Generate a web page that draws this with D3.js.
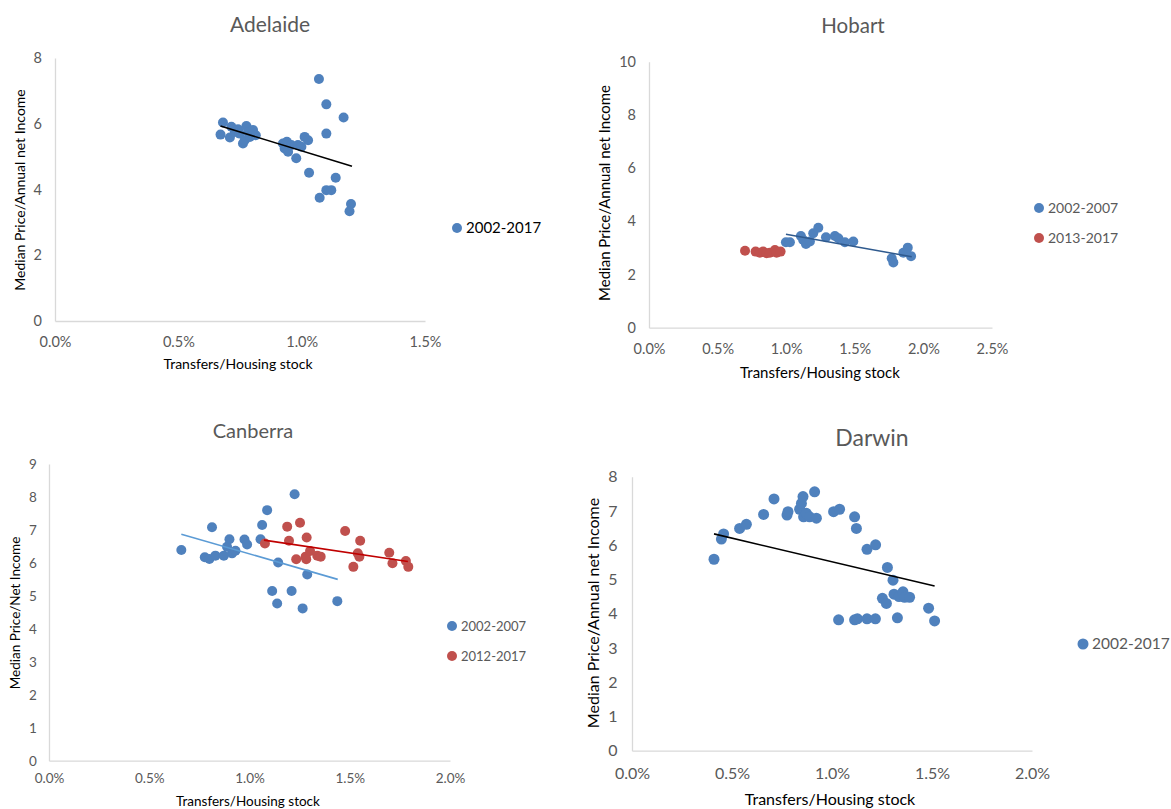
<!DOCTYPE html>
<html>
<head>
<meta charset="utf-8">
<script src="https://cdn.jsdelivr.net/npm/d3@7"></script>
<style>
  body { margin: 0; background: #fff; }
  svg { display: block; font-family: Lato, "Open Sans", sans-serif; }
</style>
</head>
<body>
<svg id="chart" width="1171" height="809"></svg>
<script>
// values: [transfers/stock in %, price/income]
const adelaide = [
  [0.671,5.67],[0.681,6.04],[0.709,5.58],[0.715,5.91],[0.729,5.75],[0.742,5.83],[0.749,5.70],
  [0.762,5.40],[0.769,5.50],[0.776,5.93],[0.783,5.75],[0.790,5.60],[0.803,5.81],[0.814,5.65],
  [0.924,5.40],[0.931,5.25],[0.940,5.45],[0.945,5.15],[0.958,5.35],[0.978,4.95],[0.985,5.35],
  [0.999,5.30],[1.012,5.60],[1.026,5.50],[1.030,4.51],[1.070,7.36],[1.073,3.75],[1.100,6.59],
  [1.100,5.70],[1.100,3.98],[1.120,3.98],[1.138,4.36],[1.170,6.19],[1.200,3.56],[1.194,3.34]
];
const adelaideTrend = [[0.671,5.93],[1.204,4.71]];

const hobart0207 = [
  [0.998,3.21],[1.027,3.21],[1.107,3.45],[1.124,3.30],[1.144,3.15],[1.173,3.24],[1.197,3.55],
  [1.234,3.76],[1.290,3.40],[1.355,3.45],[1.380,3.36],[1.428,3.21],[1.489,3.24],[1.769,2.61],
  [1.781,2.45],[1.854,2.82],[1.886,3.01],[1.910,2.69]
];
const hobart1317 = [
  [0.700,2.89],[0.777,2.86],[0.808,2.82],[0.832,2.86],[0.857,2.80],[0.881,2.82],[0.918,2.92],
  [0.930,2.82],[0.959,2.86]
];
const hobartTrend = [[0.998,3.51],[1.915,2.67]];

const canberra0207 = [
  [0.660,6.39],[0.777,6.17],[0.800,6.12],[0.813,7.08],[0.830,6.22],[0.872,6.22],[0.888,6.49],
  [0.900,6.72],[0.913,6.29],[0.930,6.37],[0.975,6.71],[0.988,6.56],[1.055,6.72],[1.063,7.15],
  [1.088,7.60],[1.113,5.15],[1.138,4.77],[1.143,6.01],[1.210,5.15],[1.225,8.08],[1.265,4.62],
  [1.288,5.65],[1.438,4.84]
];
const canberra1217 = [
  [1.077,6.59],[1.188,7.10],[1.197,6.67],[1.233,6.11],[1.252,7.22],[1.280,6.19],[1.283,6.11],
  [1.285,6.77],[1.302,6.36],[1.338,6.22],[1.355,6.19],[1.477,6.97],[1.518,5.88],[1.548,6.19],
  [1.552,6.67],[1.540,6.29],[1.697,6.31],[1.713,5.99],[1.780,6.06],[1.792,5.88]
];
const canberraTrend0207 = [[0.660,6.87],[1.440,5.50]];
const canberraTrend1217 = [[1.072,6.69],[1.790,6.04]];

const darwin = [
  [0.410,5.59],[0.447,6.18],[0.458,6.33],[0.538,6.49],[0.572,6.61],[0.658,6.90],[0.710,7.35],
  [0.775,6.88],[0.780,6.98],[0.838,7.05],[0.847,7.22],[0.855,7.42],[0.858,6.83],[0.872,6.93],
  [0.888,6.83],[0.913,7.56],[0.922,6.79],[1.008,6.98],[1.038,7.05],[1.033,3.82],[1.113,6.83],
  [1.122,6.49],[1.113,3.82],[1.127,3.85],[1.175,5.88],[1.175,3.85],[1.218,6.01],[1.217,3.85],
  [1.252,4.45],[1.272,4.30],[1.277,5.35],[1.305,4.98],[1.310,4.57],[1.327,3.88],[1.335,4.50],
  [1.355,4.64],[1.363,4.48],[1.388,4.48],[1.483,4.16],[1.513,3.79]
];
const darwinTrend = [[0.410,6.33],[1.513,4.81]];

const blue = "#4F81BD", red = "#C0504D";

const panels = [
  { title: "Adelaide", xMax: 1.5, xTicks: [0, 0.5, 1, 1.5], yMax: 8, yTicks: [0,2,4,6,8],
    xr: [55, 425], yr: [321, 58], titlePos: [270, 32], titleSize: 21,
    yTitle: "Median Price/Annual net Income", yTitlePos: [20, 190], xTitlePos: [238, 369],
    tickSize: 14.5, axisTitleSize: 14, r: 5, xTickY: 347,
    series: [{ data: adelaide, color: blue, name: "2002-2017" }],
    trends: [{ data: adelaideTrend, color: "#000" }],
    legend: [457, 228], legendSize: 15, legendColor: "#000" },
  { title: "Hobart", xMax: 2.5, xTicks: [0, 0.5, 1, 1.5, 2, 2.5], yMax: 10, yTicks: [0,2,4,6,8,10],
    xr: [649, 992], yr: [327.7, 61.7], titlePos: [853, 33], titleSize: 20.5,
    yTitle: "Median Price/Annual net Income", yTitlePos: [605, 193], xTitlePos: [820, 378],
    tickSize: 14.5, axisTitleSize: 15, r: 5, xTickY: 354,
    series: [{ data: hobart0207, color: blue, name: "2002-2007" },
             { data: hobart1317, color: red, name: "2013-2017" }],
    trends: [{ data: hobartTrend, color: "#2F5A8E" }],
    legend: [1039, 208], legendSize: 14, legendColor: "#595959" },
  { title: "Canberra", xMax: 2.0, xTicks: [0, 0.5, 1, 1.5, 2], yMax: 9, yTicks: d3.range(0, 10),
    xr: [49, 450], yr: [760.7, 464], titlePos: [253, 438], titleSize: 20,
    yTitle: "Median Price/Net Income", yTitlePos: [15, 613], xTitlePos: [248, 806],
    tickSize: 13.5, axisTitleSize: 13.5, r: 5, xTickY: 783,
    series: [{ data: canberra0207, color: blue, name: "2002-2007" },
             { data: canberra1217, color: red, name: "2012-2017" }],
    trends: [{ data: canberraTrend0207, color: "#5B9BD5" }, { data: canberraTrend1217, color: "#C00000" }],
    legend: [452, 626], legendSize: 13, legendColor: "#595959" },
  { title: "Darwin", xMax: 2.0, xTicks: [0, 0.5, 1, 1.5, 2], yMax: 8, yTicks: d3.range(0, 9),
    xr: [632, 1032], yr: [750.7, 476.7], titlePos: [872, 446], titleSize: 23,
    yTitle: "Median Price/Annual net Income", yTitlePos: [593, 613], xTitlePos: [830, 805],
    tickSize: 16, axisTitleSize: 16, r: 5.5, xTickY: 779,
    series: [{ data: darwin, color: blue, name: "2002-2017" }],
    trends: [{ data: darwinTrend, color: "#000" }],
    legend: [1083, 644], legendSize: 15.5, legendColor: "#595959" }
];

const svg = d3.select("#chart");

function drawPanel(p) {
  const x = d3.scaleLinear([0, p.xMax], p.xr);
  const y = d3.scaleLinear([0, p.yMax], p.yr);
  const g = svg.append("g");

  // axis lines, no ticks (Excel style)
  const yAxis = d3.axisLeft(y).tickValues(p.yTicks).tickSize(0).tickPadding(p.tickSize * 0.9);
  g.append("g").attr("transform", `translate(${p.xr[0]},0)`).call(yAxis)
    .call(a => a.select(".domain").attr("stroke", "#D9D9D9").attr("stroke-width", 1.3))
    .call(a => a.selectAll("text").attr("fill", "#595959").attr("font-size", p.tickSize)
      .attr("font-family", "Lato, sans-serif"));

  const xAxis = d3.axisBottom(x).tickValues(p.xTicks).tickSize(0)
    .tickFormat(d => d.toFixed(1) + "%");
  g.append("g").attr("transform", `translate(0,${p.yr[0]})`).call(xAxis)
    .call(a => a.select(".domain").attr("stroke", "#D9D9D9").attr("stroke-width", 1.3))
    .call(a => a.selectAll("text").attr("fill", "#595959").attr("font-size", p.tickSize)
      .attr("font-family", "Lato, sans-serif").attr("dy", null)
      .attr("y", p.xTickY - p.yr[0]));

  g.append("text").attr("x", p.titlePos[0]).attr("y", p.titlePos[1])
    .attr("text-anchor", "middle").attr("fill", "#595959").attr("font-size", p.titleSize)
    .text(p.title);

  g.append("text").attr("transform", `translate(${p.yTitlePos[0]},${p.yTitlePos[1]}) rotate(-90)`)
    .attr("text-anchor", "middle").attr("dy", "0.35em").attr("fill", "#000")
    .attr("font-size", p.axisTitleSize).text(p.yTitle);

  g.append("text").attr("x", p.xTitlePos[0]).attr("y", p.xTitlePos[1])
    .attr("text-anchor", "middle").attr("fill", "#000").attr("font-size", p.axisTitleSize)
    .text("Transfers/Housing stock");

  p.series.forEach(s => {
    g.append("g").selectAll("circle").data(s.data).join("circle")
      .attr("cx", d => x(d[0])).attr("cy", d => y(d[1]))
      .attr("r", p.r).attr("fill", s.color);
  });

  const line = d3.line().x(d => x(d[0])).y(d => y(d[1]));
  p.trends.forEach(t => {
    g.append("path").attr("d", line(t.data)).attr("fill", "none")
      .attr("stroke", t.color).attr("stroke-width", 1.6);
  });

  p.series.forEach((s, i) => {
    const ly = p.legend[1] + i * 30;
    g.append("circle").attr("cx", p.legend[0]).attr("cy", ly).attr("r", p.r).attr("fill", s.color);
    g.append("text").attr("x", p.legend[0] + 9).attr("y", ly).attr("dy", "0.35em")
      .attr("fill", p.legendColor).attr("font-size", p.legendSize).text(s.name);
  });
}

panels.forEach(drawPanel);
</script>
</body>
</html>
